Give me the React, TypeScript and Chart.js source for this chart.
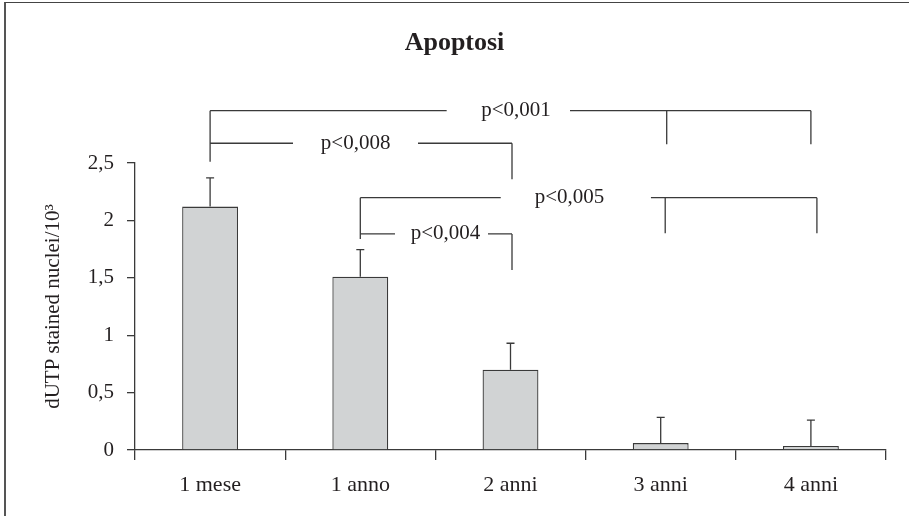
import React, { useEffect, useRef } from 'react';
import { Chart, registerables } from 'chart.js';

Chart.register(...registerables);

// ---- data ----
const categories = ['1 mese', '1 anno', '2 anni', '3 anni', '4 anni'];
const meanValues = [2.12, 1.51, 0.7, 0.06, 0.035];
const errorValues = [0.25, 0.235, 0.23, 0.225, 0.225];
const yTicks = [0, 0.5, 1, 1.5, 2, 2.5];
const yTickLabels = ['0', '0,5', '1', '1,5', '2', '2,5'];

// significance brackets (x in category index units, y in data units)
const bracketLabels = ['p<0,001', 'p<0,008', 'p<0,005', 'p<0,004'];
const bracketLevels = [2.956, 2.672, 2.198, 1.882];
const bracketLabelX = [2.037, 0.969, 2.393, 1.567];
const bracketSegments = [
  [[0, 1.575], [2.396, 4.0]],
  [[0, 0.552], [1.384, 2.01]],
  [[1, 1.935], [2.935, 4.04]],
  [[1, 1.231], [1.85, 2.01]],
];
const bracketDrops = [
  [[0, 2.511], [3.04, 2.663], [4.0, 2.663]],
  [[2.01, 2.359]],
  [[1, 1.838], [3.03, 1.888], [4.04, 1.888]],
  [[2.01, 1.568]],
];

const INK = '#231f20';
const LINE = '#3a3a3a';
const SERIF = "'Liberation Serif', 'Times New Roman', serif";

const errorBarPlugin = {
  id: 'errorBars',
  afterDatasetsDraw(chart: any) {
    const { ctx } = chart;
    const meta = chart.getDatasetMeta(0);
    const y = chart.scales.y;
    ctx.save();
    ctx.strokeStyle = LINE;
    ctx.lineWidth = 1.3;
    meta.data.forEach((el: any, i: number) => {
      const top = y.getPixelForValue(meanValues[i] + errorValues[i]);
      ctx.beginPath();
      ctx.moveTo(el.x, el.y);
      ctx.lineTo(el.x, top);
      ctx.moveTo(el.x - 4, top);
      ctx.lineTo(el.x + 4, top);
      ctx.stroke();
    });
    ctx.restore();
  },
};

const bracketPlugin = {
  id: 'brackets',
  afterDraw(chart: any) {
    const { ctx } = chart;
    const xs = chart.scales.x;
    const ys = chart.scales.y;
    ctx.save();
    ctx.strokeStyle = LINE;
    ctx.lineWidth = 1.3;
    bracketLabels.forEach((label, b) => {
      const yp = ys.getPixelForValue(bracketLevels[b]);
      ctx.beginPath();
      bracketSegments[b].forEach(([a, c]) => {
        ctx.moveTo(xs.getPixelForValue(a), yp);
        ctx.lineTo(xs.getPixelForValue(c), yp);
      });
      bracketDrops[b].forEach(([xv, yv]) => {
        const xp = xs.getPixelForValue(xv);
        ctx.moveTo(xp, yp);
        ctx.lineTo(xp, ys.getPixelForValue(yv));
      });
      ctx.stroke();
      ctx.fillStyle = INK;
      ctx.font = `21px ${SERIF}`;
      ctx.textAlign = 'center';
      ctx.textBaseline = 'middle';
      ctx.fillText(label, xs.getPixelForValue(bracketLabelX[b]), yp);
    });
    ctx.restore();
  },
};

export default function App() {
  const canvasRef = useRef<HTMLCanvasElement | null>(null);

  useEffect(() => {
    if (!canvasRef.current) return;
    const chart = new Chart(canvasRef.current, {
      type: 'bar',
      data: {
        labels: categories,
        datasets: [
          {
            data: meanValues,
            backgroundColor: '#d1d3d4',
            borderColor: LINE,
            borderWidth: 1.3,
            categoryPercentage: 1,
            barPercentage: 0.372,
          },
        ],
      },
      options: {
        animation: false,
        responsive: false,
        maintainAspectRatio: false,
        layout: { padding: { left: 0, right: 0, top: 0, bottom: 0 } },
        plugins: {
          legend: { display: false },
          tooltip: { enabled: false },
          title: {
            display: true,
            text: 'Apoptosi',
            color: INK,
            font: { family: SERIF, size: 26, weight: 'bold', lineHeight: 1.2 },
            padding: { top: 28, bottom: 103.8 },
          },
        },
        scales: {
          x: {
            type: 'category',
            offset: true,
            grid: {
              display: true,
              offset: true,
              drawOnChartArea: false,
              drawTicks: true,
              tickLength: 10,
              color: LINE,
              lineWidth: 1.3,
            },
            border: { display: true, color: LINE, width: 1.3 },
            ticks: {
              color: INK,
              font: { family: SERIF, size: 22 },
              padding: 12,
              maxRotation: 0,
              autoSkip: false,
            },
            afterFit: (s: any) => {
              s.height = 66;
            },
          },
          y: {
            min: 0,
            max: 2.5,
            afterBuildTicks: (s: any) => {
              s.ticks = yTicks.map((v) => ({ value: v }));
            },
            grid: {
              display: true,
              drawOnChartArea: false,
              drawTicks: true,
              tickLength: 8,
              color: LINE,
              lineWidth: 1.3,
            },
            border: { display: true, color: LINE, width: 1.3 },
            ticks: {
              color: INK,
              font: { family: SERIF, size: 21 },
              padding: 13,
              callback: (_v: any, i: number) => yTickLabels[i],
            },
            title: {
              display: true,
              text: 'dUTP stained nuclei/10³',
              color: INK,
              font: { family: SERIF, size: 21, lineHeight: 1.2 },
              padding: { top: 41, bottom: 0 },
            },
            afterFit: (s: any) => {
              s.width = 135;
            },
          },
          yRight: {
            position: 'right',
            display: true,
            grid: { display: false },
            border: { display: false },
            ticks: { display: false },
            afterFit: (s: any) => {
              s.width = 23;
            },
          },
        },
      },
      plugins: [errorBarPlugin, bracketPlugin],
    } as any);
    return () => chart.destroy();
  }, []);

  return (
    <div style={{ position: 'fixed', left: 0, top: 0, width: 909, height: 516, background: '#fff' }}>
      <canvas ref={canvasRef} width={909} height={516} style={{ display: 'block' }} />
      <div
        style={{
          position: 'absolute',
          left: 4,
          top: 2,
          right: 0,
          bottom: 0,
          borderLeft: '2px solid #555',
          borderTop: '1px solid #444',
          pointerEvents: 'none',
        }}
      />
    </div>
  );
}
